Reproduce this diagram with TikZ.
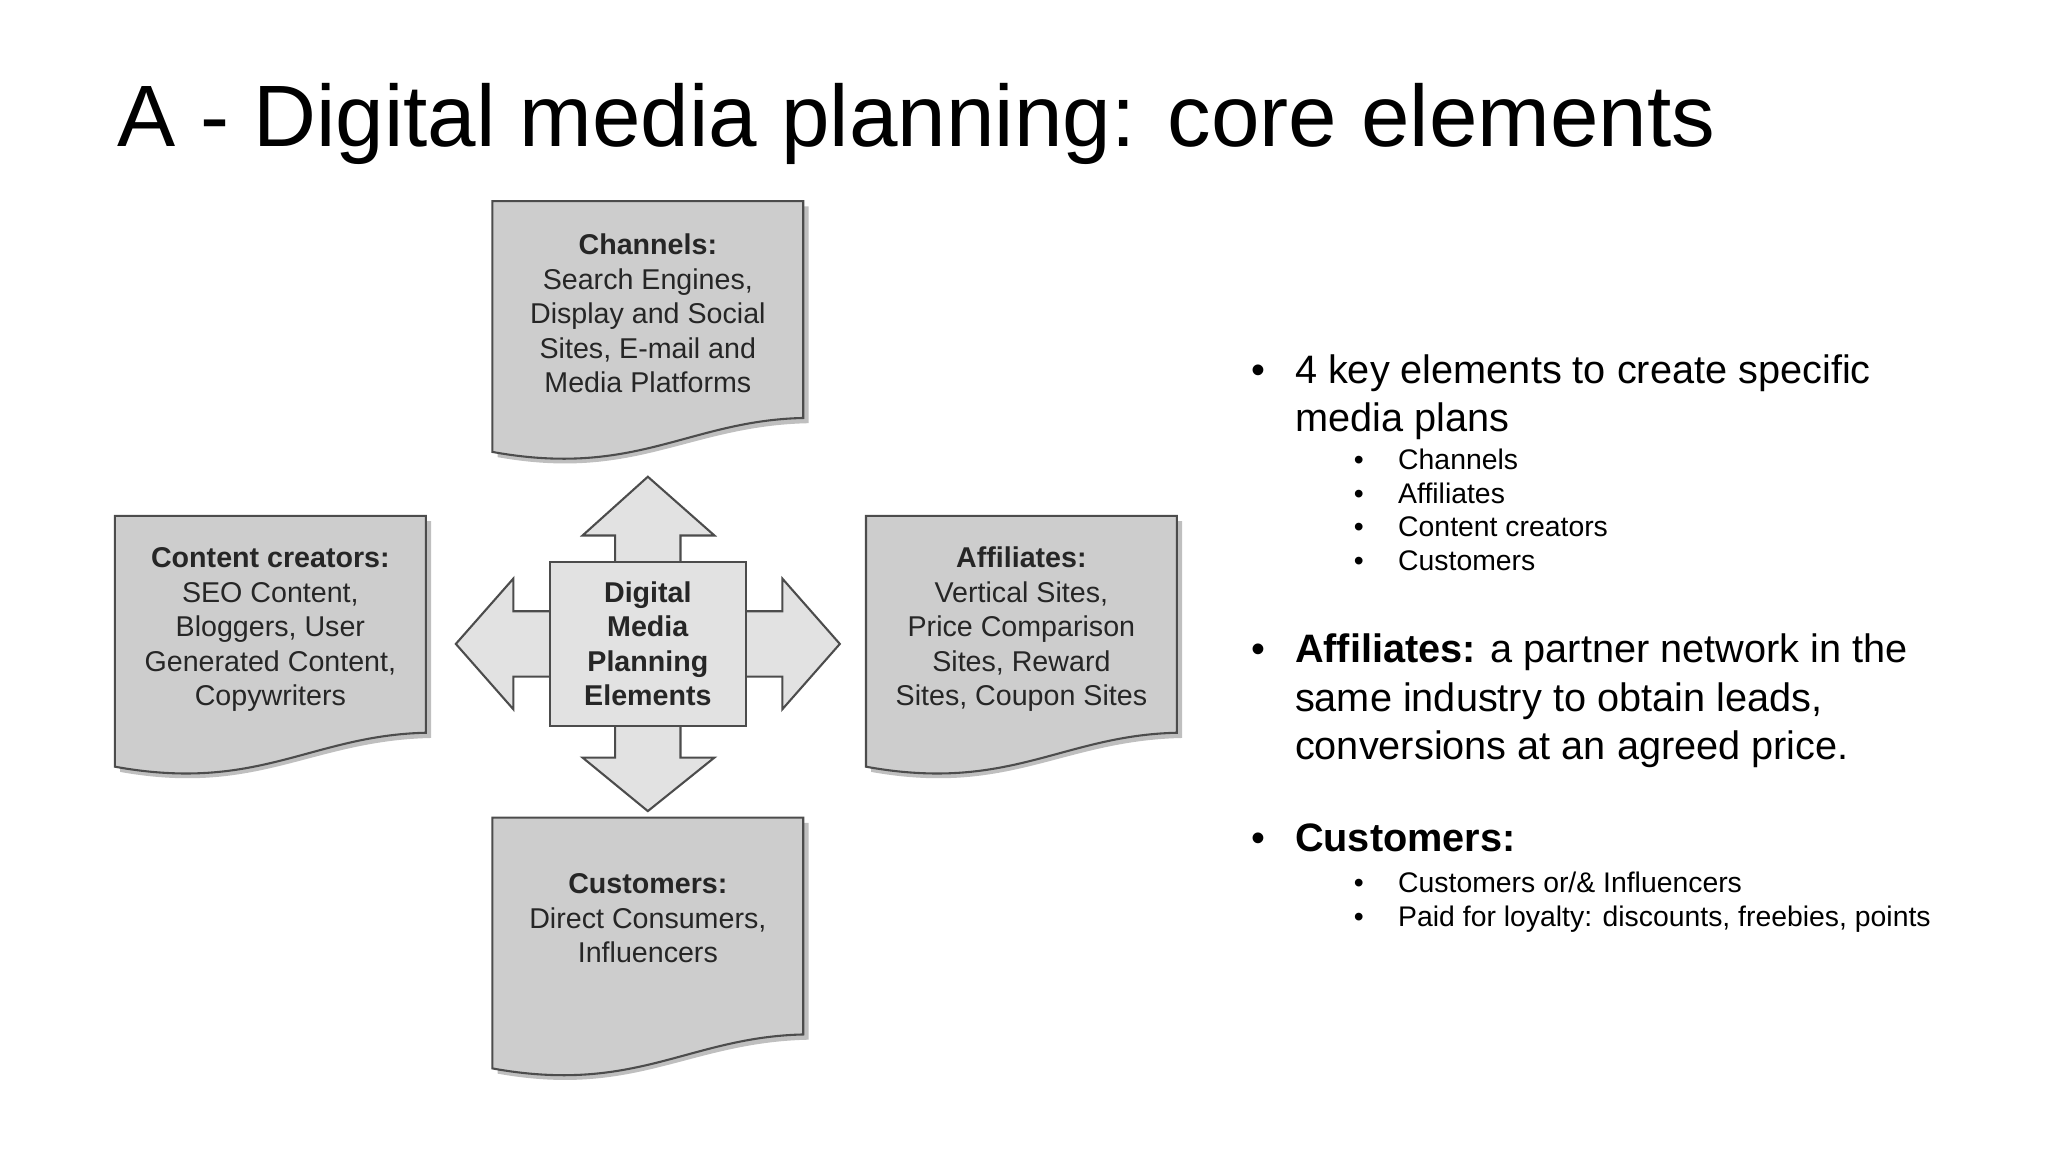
\documentclass[tikz,border=0pt]{standalone}
\usepackage{fontspec}
\setmainfont{Liberation Sans}
\begin{document}
\begin{tikzpicture}[x=1bp,y=-1bp,
  doc/.style={fill=docgray,draw=black!70,line width=1.6bp},
  arr/.style={fill=arrgray,draw=black!70,line width=1.6bp},
  dtext/.style={align=center,font=\fontsize{22}{26.5}\selectfont,text=black!85},
  bul/.style={anchor=north west,font=\fontsize{30.5}{37}\selectfont,align=left},
  sub/.style={anchor=north west,font=\fontsize{21.8}{26}\selectfont,align=left}]
\definecolor{docgray}{HTML}{CDCDCD}
\definecolor{arrgray}{HTML}{E2E2E2}
\useasboundingbox (0,0) rectangle (1568,882);
\node[anchor=base west,font=\fontsize{67}{75}\selectfont,inner sep=0] (title) at (90,112) {A - Digital media planning: core elements};
% documents
\newcommand{\docshape}[2]{%
  \fill[black!25] (#1+4,#2+4) -- (#1+242,#2+4) -- (#1+242,#2+170) .. controls (#1+150,#2+172) and (#1+110,#2+215) .. (#1+4,#2+196) -- cycle;
  \draw[doc] (#1,#2) -- (#1+238,#2) -- (#1+238,#2+166) .. controls (#1+150,#2+168) and (#1+110,#2+212) .. (#1,#2+192) -- cycle;}
\docshape{377}{154}
\docshape{88}{395}
\docshape{663}{395}
\docshape{377}{626}
\node[dtext] (ch) at (496,240) {\textbf{Channels:}\\Search Engines,\\Display and Social\\Sites, E-mail and\\Media Platforms};
\node[dtext] (cc) at (207,482) {\textbf{Content creators:}\\SEO Content,\\Bloggers, User\\Generated Content,\\Copywriters};
\node[dtext] (af) at (782,482) {\textbf{Affiliates:}\\Vertical Sites,\\Price Comparison\\Sites, Reward\\Sites, Coupon Sites};
\node[dtext] (cu) at (496,703) {\textbf{Customers:}\\Direct Consumers,\\Influencers};
% arrows
\draw[arr] (471,432) -- (471,410) -- (446,410) -- (496,365) -- (547,410) -- (521,410) -- (521,432) -- cycle;
\draw[arr] (471,554) -- (471,580) -- (446,580) -- (496,621) -- (547,580) -- (521,580) -- (521,554) -- cycle;
\draw[arr] (423,468) -- (393,468) -- (393,443) -- (349,493) -- (393,543) -- (393,518) -- (423,518) -- cycle;
\draw[arr] (569,468) -- (599,468) -- (599,443) -- (643,493) -- (599,543) -- (599,518) -- (569,518) -- cycle;
\node[draw=black!70,fill=arrgray,line width=1.6bp,minimum width=150bp,minimum height=126bp,dtext] (center) at (496,493) {\textbf{Digital}\\\textbf{Media}\\\textbf{Planning}\\\textbf{Elements}};
% bullets
\node[bul] (b1) at (955,268) {\makebox[33bp][l]{•}4 key elements to create specific\\\hspace*{33bp}media plans};
\node[sub] (s1) at (1033,340) {\makebox[34bp][l]{•}Channels\\\makebox[34bp][l]{•}Affiliates\\\makebox[34bp][l]{•}Content creators\\\makebox[34bp][l]{•}Customers};
\node[bul] (b2) at (955,482) {\makebox[33bp][l]{•}\textbf{Affiliates:} a partner network in the\\\hspace*{33bp}same industry to obtain leads,\\\hspace*{33bp}conversions at an agreed price.};
\node[bul] (b3) at (955,627) {\makebox[33bp][l]{•}\textbf{Customers:}};
\node[sub] (s2) at (1033,664) {\makebox[34bp][l]{•}Customers or/\& Influencers\\\makebox[34bp][l]{•}Paid for loyalty: discounts, freebies, points};
\end{tikzpicture}
\end{document}
